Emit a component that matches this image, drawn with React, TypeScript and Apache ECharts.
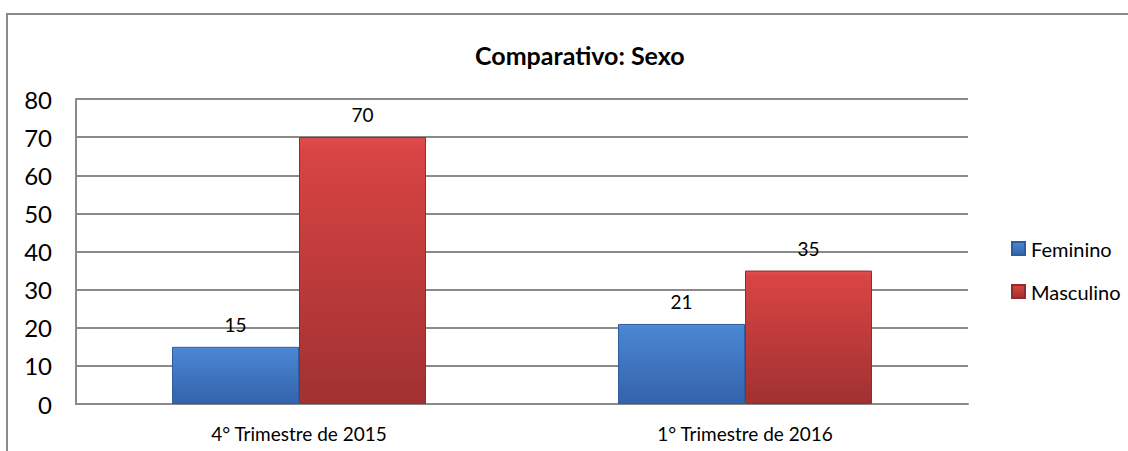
import React, { useEffect, useRef } from "react";
import * as echarts from "echarts";

const categories = ["4° Trimestre de 2015", "1° Trimestre de 2016"];
const feminino = [15, 21];
const masculino = [70, 35];
const seriesNames = ["Feminino", "Masculino"];
const titleText = "Comparativo: Sexo";

const FONT = "Lato, 'Liberation Sans', sans-serif";

export default function App() {
  const ref = useRef<HTMLDivElement>(null);
  useEffect(() => {
    document.body.style.margin = "0";
    const chart = echarts.init(ref.current!, null, { renderer: "svg" });
    const blue = new echarts.graphic.LinearGradient(0, 0, 0, 1, [
      { offset: 0, color: "#4f8edb" },
      { offset: 0.04, color: "#4a86d2" },
      { offset: 1, color: "#3363ab" },
    ]);
    const red = new echarts.graphic.LinearGradient(0, 0, 0, 1, [
      { offset: 0, color: "#e05050" },
      { offset: 0.04, color: "#d94444" },
      { offset: 1, color: "#a13131" },
    ]);
    chart.setOption({
      animation: false,
      textStyle: { fontFamily: FONT },
      title: {
        text: titleText,
        left: 470,
        top: 37,
        textStyle: { fontSize: 25, fontWeight: "bold", color: "#000", fontFamily: FONT },
      },
      graphic: [
        {
          type: "rect",
          shape: { x: 7, y: 14, width: 1125, height: 445 },
          style: { fill: "none", stroke: "#8a8a8a", lineWidth: 2 },
          silent: true,
        },
      ],
      legend: {
        orient: "vertical",
        left: 1006,
        top: 233,
        itemGap: 22,
        itemWidth: 13,
        itemHeight: 13,
        icon: "rect",
        textStyle: { fontSize: 20, lineHeight: 21, color: "#000", fontFamily: FONT, padding: [0, 0, 0, 1] },
        data: seriesNames,
      },
      grid: { left: 76, top: 99, right: 160, bottom: 47 },
      xAxis: {
        type: "category",
        data: categories,
        axisLine: { lineStyle: { color: "#8a8a8a", width: 2 } },
        axisTick: { show: false },
        axisLabel: { fontSize: 19, color: "#000", margin: 20, fontFamily: FONT },
      },
      yAxis: {
        type: "value",
        min: 0,
        max: 80,
        interval: 10,
        axisLine: { show: true, lineStyle: { color: "#8a8a8a", width: 2 } },
        axisTick: { show: false },
        splitLine: { lineStyle: { color: "#8a8a8a", width: 2 } },
        axisLabel: { fontSize: 24, color: "#000", margin: 24, fontFamily: FONT },
      },
      series: [
        {
          name: seriesNames[0],
          type: "bar",
          data: feminino,
          barWidth: 127,
          barGap: "0%",
          itemStyle: { color: blue, borderColor: "#2f5c9e", borderWidth: 1 },
          label: { show: true, position: "top", distance: 13, fontSize: 19, color: "#000", fontFamily: FONT },
        },
        {
          name: seriesNames[1],
          type: "bar",
          data: masculino,
          barWidth: 127,
          barGap: "0%",
          itemStyle: { color: red, borderColor: "#922b2b", borderWidth: 1 },
          label: { show: true, position: "top", distance: 13, fontSize: 19, color: "#000", fontFamily: FONT },
        },
      ],
    });
    return () => chart.dispose();
  }, []);
  return <div ref={ref} style={{ width: 1128, height: 451 }} />;
}
